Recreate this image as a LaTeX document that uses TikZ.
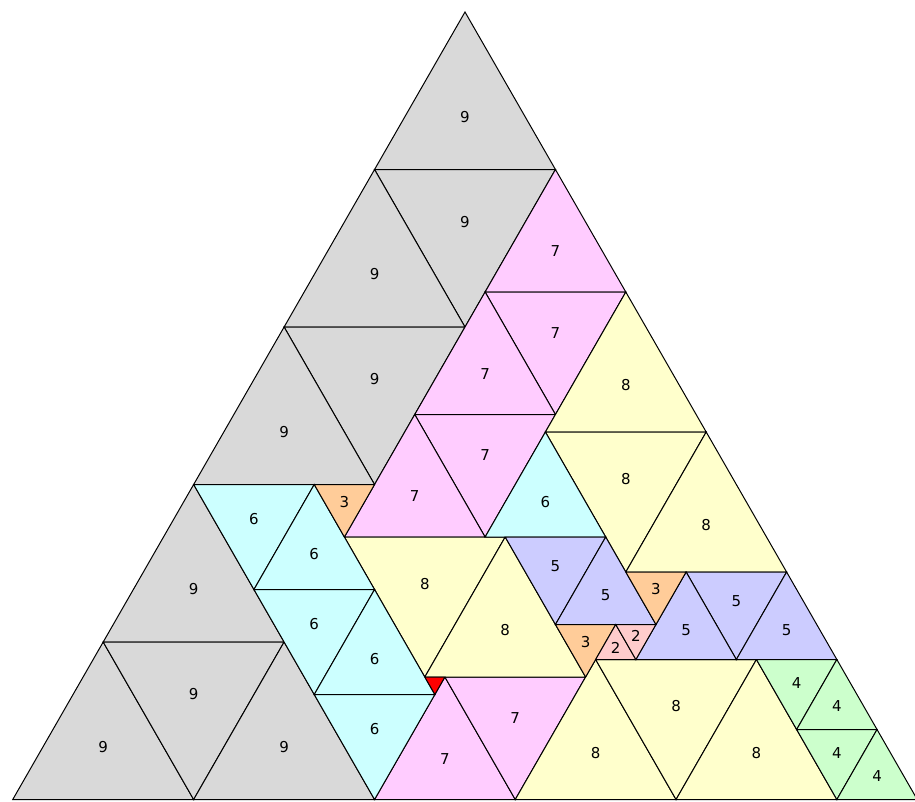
\documentclass[tikz,border=0pt]{standalone}
\usepackage{xcolor}
\usepackage{fontspec}
\setsansfont{DejaVu Sans}
\usepackage{tikz}
\definecolor{tgray}{RGB}{217,217,217}
\definecolor{tpink}{RGB}{255,204,255}
\definecolor{tyel}{RGB}{255,255,204}
\definecolor{tcyan}{RGB}{204,255,255}
\definecolor{tlav}{RGB}{204,204,255}
\definecolor{tgreen}{RGB}{204,255,204}
\definecolor{torange}{RGB}{255,204,153}
\definecolor{trose}{RGB}{255,204,204}
\tikzset{
    tri/.style={draw=black, line width=1pt, line join=miter},
    lbl/.style={font=\sffamily\fontsize{15}{15}\selectfont, inner sep=0pt}
}
% (k,d): k along the row, d rows down from the apex
\newcommand{\uptri}[4]{%
    \filldraw[tri, fill=#1] (#3,#2) -- ++(0,#4) -- ++(#4,0) -- cycle;
    \node[lbl] (u-#2-#3) at ({#3+#4/3},{#2+2*#4/3}) {#4};}
\newcommand{\dntri}[4]{%
    \filldraw[tri, fill=#1] (#3,#2) -- ++(#4,0) -- ++(0,#4) -- cycle;
    \node[lbl] (d-#2-#3) at ({#3+2*#4/3},{#2+#4/3}) {#4};}

\begin{document}
\begin{tikzpicture}[x={(20.1pt,0pt)}, y={(-10.05pt,-17.5pt)}]
    \useasboundingbox (-465pt,12pt) rectangle (450pt,-789pt);
    % nines
    \uptri{tgray}{0}{0}{9}
    \dntri{tgray}{9}{0}{9}
    \uptri{tgray}{9}{0}{9}
    \dntri{tgray}{18}{0}{9}
    \uptri{tgray}{18}{0}{9}
    \uptri{tgray}{27}{0}{9}
    \uptri{tgray}{36}{0}{9}
    \dntri{tgray}{36}{0}{9}
    \uptri{tgray}{36}{9}{9}
    % sevens
    \uptri{tpink}{9}{9}{7}
    \dntri{tpink}{16}{9}{7}
    \uptri{tpink}{16}{9}{7}
    \dntri{tpink}{23}{9}{7}
    \uptri{tpink}{23}{9}{7}
    \uptri{tpink}{38}{18}{7}
    \dntri{tpink}{38}{18}{7}
    % eights
    \uptri{tyel}{16}{16}{8}
    \dntri{tyel}{24}{16}{8}
    \uptri{tyel}{24}{24}{8}
    \dntri{tyel}{30}{9}{8}
    \uptri{tyel}{30}{17}{8}
    \uptri{tyel}{37}{25}{8}
    \dntri{tyel}{37}{25}{8}
    \uptri{tyel}{37}{33}{8}
    % sixes
    \uptri{tcyan}{24}{16}{6}
    \dntri{tcyan}{27}{0}{6}
    \uptri{tcyan}{27}{6}{6}
    \dntri{tcyan}{33}{6}{6}
    \uptri{tcyan}{33}{12}{6}
    \dntri{tcyan}{39}{12}{6}
    % fives
    \dntri{tlav}{30}{17}{5}
    \uptri{tlav}{30}{22}{5}
    \dntri{tlav}{32}{27}{5}
    \uptri{tlav}{32}{27}{5}
    \uptri{tlav}{32}{32}{5}
    % fours
    \dntri{tgreen}{37}{33}{4}
    \uptri{tgreen}{37}{37}{4}
    \dntri{tgreen}{41}{37}{4}
    \uptri{tgreen}{41}{41}{4}
    % threes, twos, one
    \dntri{torange}{27}{6}{3}
    \dntri{torange}{32}{24}{3}
    \dntri{torange}{35}{22}{3}
    \uptri{trose}{35}{25}{2}
    \dntri{trose}{35}{25}{2}
    \filldraw[tri, fill=red] (17,38) -- ++(1,0) -- ++(0,1) -- cycle;
\end{tikzpicture}
\end{document}
